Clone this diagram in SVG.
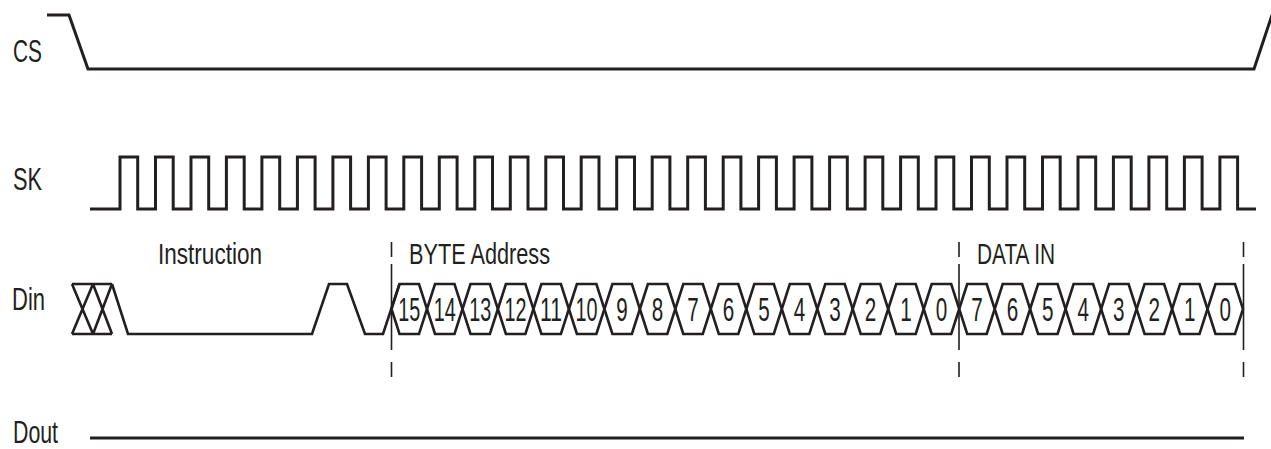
<svg xmlns="http://www.w3.org/2000/svg" width="1271" height="449" viewBox="0 0 1271 449">
<style>
.sig{fill:none;stroke:#231f20;stroke-width:3;stroke-linejoin:miter}
.cell{fill:none;stroke:#231f20;stroke-width:2.6;stroke-linejoin:miter}
.mark{fill:none;stroke:#231f20;stroke-width:1.6;stroke-dasharray:15 7 86 12 16 40}
.lbl{font-family:"Liberation Sans",Arial,sans-serif;font-size:32px;fill:#231f20}
.hdr{font-family:"Liberation Sans",Arial,sans-serif;font-size:29px;fill:#231f20}
.dig{font-family:"Liberation Sans",Arial,sans-serif;font-size:33px;fill:#231f20;text-anchor:middle}
</style>
<rect width="1271" height="449" fill="#ffffff"/>
<g id="labels">
<text class="lbl" x="13" y="62" textLength="29" lengthAdjust="spacingAndGlyphs">CS</text>
<text class="lbl" x="13" y="190" textLength="29" lengthAdjust="spacingAndGlyphs">SK</text>
<text class="lbl" x="12" y="310" textLength="33" lengthAdjust="spacingAndGlyphs">Din</text>
<text class="lbl" x="13" y="443" textLength="45" lengthAdjust="spacingAndGlyphs">Dout</text>
<text class="hdr" x="158" y="264" textLength="104" lengthAdjust="spacingAndGlyphs">Instruction</text>
<text class="hdr" x="409" y="264" textLength="141" lengthAdjust="spacingAndGlyphs">BYTE Address</text>
<text class="hdr" x="977" y="264" textLength="78" lengthAdjust="spacingAndGlyphs">DATA IN</text>
</g>
<g id="cs">
<path class="sig" d="M47,15 H69 L88,69 H1254 L1272,15"/>
</g>
<g id="sk">
<path class="sig" d="M90,209 H120 V157 H137.7 V209 H155.5 V157 H173.2 V209 H191 V157 H208.7 V209 H226.4 V157 H244.2 V209 H261.9 V157 H279.7 V209 H297.4 V157 H315.1 V209 H332.9 V157 H350.6 V209 H368.4 V157 H386.1 V209 H403.8 V157 H421.6 V209 H439.3 V157 H457.1 V209 H474.8 V157 H492.5 V209 H510.3 V157 H528 V209 H545.8 V157 H563.5 V209 H581.2 V157 H599 V209 H616.7 V157 H634.5 V209 H652.2 V157 H669.9 V209 H687.7 V157 H705.4 V209 H723.2 V157 H740.9 V209 H758.6 V157 H776.4 V209 H794.1 V157 H811.9 V209 H829.6 V157 H847.3 V209 H865.1 V157 H882.8 V209 H900.6 V157 H918.3 V209 H936 V157 H953.8 V209 H971.5 V157 H989.3 V209 H1007 V157 H1024.7 V209 H1042.5 V157 H1060.2 V209 H1078 V157 H1095.7 V209 H1113.4 V157 H1131.2 V209 H1148.9 V157 H1166.7 V209 H1184.4 V157 H1202.1 V209 H1219.9 V157 H1237.6 V209 H1256"/>
</g>
<g id="markers">
<line class="mark" x1="391.5" y1="242" x2="391.5" y2="377"/>
<line class="mark" x1="959" y1="242" x2="959" y2="377"/>
<line class="mark" x1="1243.5" y1="242" x2="1243.5" y2="377"/>
</g>
<g id="din">
<path class="cell" d="M72,284 H112 M72,334 H112 M72,284 L93,334 M72,334 L93,284 M93,284 L112,334 M93,334 L112,284 M112,284 L128,334 H312 L329,284 H347 L365,334 H383 L399.5,284"/>
<g id="din-addr">
<path class="cell" d="M391.5,309 L399.5,284 H419 L427,309 L419,334 H399.5 Z"/>
<path class="cell" d="M427,309 L435,284 H454.5 L462.5,309 L454.5,334 H435 Z"/>
<path class="cell" d="M462.5,309 L470.5,284 H489.9 L497.9,309 L489.9,334 H470.5 Z"/>
<path class="cell" d="M497.9,309 L505.9,284 H525.4 L533.4,309 L525.4,334 H505.9 Z"/>
<path class="cell" d="M533.4,309 L541.4,284 H560.9 L568.9,309 L560.9,334 H541.4 Z"/>
<path class="cell" d="M568.9,309 L576.9,284 H596.4 L604.4,309 L596.4,334 H576.9 Z"/>
<path class="cell" d="M604.4,309 L612.4,284 H631.9 L639.9,309 L631.9,334 H612.4 Z"/>
<path class="cell" d="M639.9,309 L647.9,284 H667.3 L675.3,309 L667.3,334 H647.9 Z"/>
<path class="cell" d="M675.3,309 L683.3,284 H702.8 L710.8,309 L702.8,334 H683.3 Z"/>
<path class="cell" d="M710.8,309 L718.8,284 H738.3 L746.3,309 L738.3,334 H718.8 Z"/>
<path class="cell" d="M746.3,309 L754.3,284 H773.8 L781.8,309 L773.8,334 H754.3 Z"/>
<path class="cell" d="M781.8,309 L789.8,284 H809.3 L817.3,309 L809.3,334 H789.8 Z"/>
<path class="cell" d="M817.3,309 L825.3,284 H844.7 L852.7,309 L844.7,334 H825.3 Z"/>
<path class="cell" d="M852.7,309 L860.7,284 H880.2 L888.2,309 L880.2,334 H860.7 Z"/>
<path class="cell" d="M888.2,309 L896.2,284 H915.7 L923.7,309 L915.7,334 H896.2 Z"/>
<path class="cell" d="M923.7,309 L931.7,284 H951.2 L959.2,309 L951.2,334 H931.7 Z"/>
<text class="dig" x="409.2" y="321" textLength="22" lengthAdjust="spacingAndGlyphs">15</text>
<text class="dig" x="444.7" y="321" textLength="22" lengthAdjust="spacingAndGlyphs">14</text>
<text class="dig" x="480.2" y="321" textLength="22" lengthAdjust="spacingAndGlyphs">13</text>
<text class="dig" x="515.6" y="321" textLength="22" lengthAdjust="spacingAndGlyphs">12</text>
<text class="dig" x="551.1" y="321" textLength="22" lengthAdjust="spacingAndGlyphs">11</text>
<text class="dig" x="586.6" y="321" textLength="22" lengthAdjust="spacingAndGlyphs">10</text>
<text class="dig" x="622.1" y="321" textLength="11.5" lengthAdjust="spacingAndGlyphs">9</text>
<text class="dig" x="657.6" y="321" textLength="11.5" lengthAdjust="spacingAndGlyphs">8</text>
<text class="dig" x="693" y="321" textLength="11.5" lengthAdjust="spacingAndGlyphs">7</text>
<text class="dig" x="728.5" y="321" textLength="11.5" lengthAdjust="spacingAndGlyphs">6</text>
<text class="dig" x="764" y="321" textLength="11.5" lengthAdjust="spacingAndGlyphs">5</text>
<text class="dig" x="799.5" y="321" textLength="11.5" lengthAdjust="spacingAndGlyphs">4</text>
<text class="dig" x="835" y="321" textLength="11.5" lengthAdjust="spacingAndGlyphs">3</text>
<text class="dig" x="870.4" y="321" textLength="11.5" lengthAdjust="spacingAndGlyphs">2</text>
<text class="dig" x="905.9" y="321" textLength="11.5" lengthAdjust="spacingAndGlyphs">1</text>
<text class="dig" x="941.4" y="321" textLength="11.5" lengthAdjust="spacingAndGlyphs">0</text>
</g>
<g id="din-data">
<path class="cell" d="M959.2,309 L967.2,284 H986.7 L994.7,309 L986.7,334 H967.2 Z"/>
<path class="cell" d="M994.7,309 L1002.7,284 H1022.1 L1030.1,309 L1022.1,334 H1002.7 Z"/>
<path class="cell" d="M1030.1,309 L1038.1,284 H1057.6 L1065.6,309 L1057.6,334 H1038.1 Z"/>
<path class="cell" d="M1065.6,309 L1073.6,284 H1093.1 L1101.1,309 L1093.1,334 H1073.6 Z"/>
<path class="cell" d="M1101.1,309 L1109.1,284 H1128.6 L1136.6,309 L1128.6,334 H1109.1 Z"/>
<path class="cell" d="M1136.6,309 L1144.6,284 H1164.1 L1172.1,309 L1164.1,334 H1144.6 Z"/>
<path class="cell" d="M1172.1,309 L1180.1,284 H1199.5 L1207.5,309 L1199.5,334 H1180.1 Z"/>
<path class="cell" d="M1207.5,309 L1215.5,284 H1235 L1243,309 L1235,334 H1215.5 Z"/>
<text class="dig" x="976.9" y="321" textLength="11.5" lengthAdjust="spacingAndGlyphs">7</text>
<text class="dig" x="1012.4" y="321" textLength="11.5" lengthAdjust="spacingAndGlyphs">6</text>
<text class="dig" x="1047.8" y="321" textLength="11.5" lengthAdjust="spacingAndGlyphs">5</text>
<text class="dig" x="1083.3" y="321" textLength="11.5" lengthAdjust="spacingAndGlyphs">4</text>
<text class="dig" x="1118.8" y="321" textLength="11.5" lengthAdjust="spacingAndGlyphs">3</text>
<text class="dig" x="1154.3" y="321" textLength="11.5" lengthAdjust="spacingAndGlyphs">2</text>
<text class="dig" x="1189.8" y="321" textLength="11.5" lengthAdjust="spacingAndGlyphs">1</text>
<text class="dig" x="1225.2" y="321" textLength="11.5" lengthAdjust="spacingAndGlyphs">0</text>
</g>
</g>
<g id="dout">
<path class="sig" d="M90,438 H1244"/>
</g>
</svg>
